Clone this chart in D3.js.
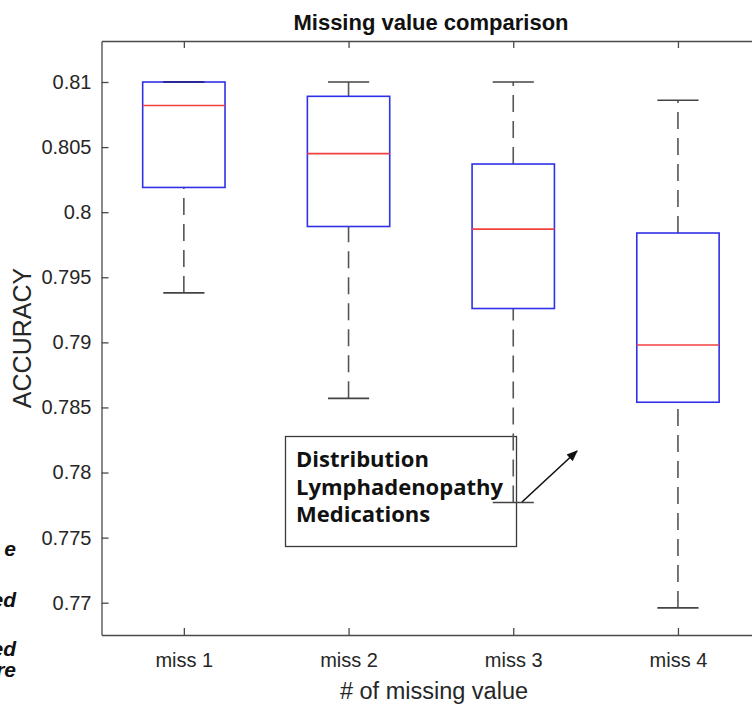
<!DOCTYPE html>
<html>
<head>
<meta charset="utf-8">
<script src="https://cdn.jsdelivr.net/npm/d3@7"></script>
<style>
  html, body { margin: 0; padding: 0; background: #fff; }
  svg { display: block; }
</style>
</head>
<body>
<svg id="chart" width="752" height="707"></svg>
<script>
// ---- data ----
const categories = ["miss 1", "miss 2", "miss 3", "miss 4"];
const lowerWhisker = [0.7938, 0.7857, 0.7777, 0.7696];
const q1Values     = [0.8019, 0.7989, 0.7926, 0.7854];
const medianValues = [0.8082, 0.8045, 0.7987, 0.7898];
const q3Values     = [0.8100, 0.8089, 0.8037, 0.7984];
const upperWhisker = [0.8100, 0.8100, 0.8100, 0.8086];
const yTicks = [0.77, 0.775, 0.78, 0.785, 0.79, 0.795, 0.8, 0.805, 0.81];
const yTickLabels = ["0.77", "0.775", "0.78", "0.785", "0.79", "0.795", "0.8", "0.805", "0.81"];
const yLimits = [0.76752, 0.81315];
const xLimits = [0.5, 4.5];
const annotationLines = ["Distribution", "Lymphadenopathy", "Medications"];
const sideFragments = [
  { text: "e", y: 556 },
  { text: "ed", y: 607 },
  { text: "ed", y: 656 },
  { text: "re", y: 677 }
];

// ---- layout ----
const svg = d3.select("#chart");
const pLeft = 101.5, pRight = 760.3, pTop = 41, pBottom = 635;
const x = d3.scaleLinear().domain(xLimits).range([pLeft, pRight]);
const y = d3.scaleLinear().domain(yLimits).range([pBottom, pTop]);
const axisColor = "#4a4a4a";
const font = "'Liberation Sans', Arial, sans-serif";

// side fragments (cut-off text from neighbouring figure)
svg.append("g").selectAll("text").data(sideFragments).join("text")
  .attr("x", 16).attr("y", d => d.y)
  .attr("text-anchor", "end")
  .attr("font-family", font).attr("font-weight", "bold").attr("font-style", "italic")
  .attr("font-size", 21).attr("fill", "#111")
  .text(d => d.text);

// annotation box (drawn beneath plot marks)
const ann = svg.append("g");
ann.append("rect")
  .attr("x", 285.5).attr("y", 436.5).attr("width", 231).attr("height", 110)
  .attr("fill", "#fff").attr("stroke", "#3a3a3a").attr("stroke-width", 1.3);
ann.selectAll("text").data(annotationLines).join("text")
  .attr("x", 296).attr("y", (d, i) => 467 + i * 27.5)
  .attr("font-family", "'Open Sans', sans-serif").attr("font-weight", "bold")
  .attr("font-size", 22).attr("fill", "#111")
  .text(d => d);

// axes (MATLAB-style box with inward ticks)
const yAxis = d3.axisLeft(y).tickValues(yTicks).tickFormat((d, i) => yTickLabels[i])
  .tickSizeInner(-7).tickSizeOuter(0).tickPadding(10);
const gy = svg.append("g").attr("transform", `translate(${pLeft},0)`).call(yAxis);
gy.select(".domain").attr("stroke", axisColor).attr("stroke-width", 1.3);
gy.selectAll(".tick line").attr("stroke", axisColor).attr("stroke-width", 1.3);
gy.selectAll(".tick text").attr("font-family", font).attr("font-size", 20)
  .attr("fill", "#262626");

const xAxis = d3.axisBottom(x).tickValues(d3.range(1, categories.length + 1))
  .tickFormat((d, i) => categories[i]).tickSizeInner(-7).tickSizeOuter(0).tickPadding(18);
const gx = svg.append("g").attr("transform", `translate(0,${pBottom})`).call(xAxis);
gx.select(".domain").attr("stroke", axisColor).attr("stroke-width", 1.3);
gx.selectAll(".tick line").attr("stroke", axisColor).attr("stroke-width", 1.3);
gx.selectAll(".tick text").attr("font-family", font).attr("font-size", 20)
  .attr("fill", "#262626");

const xTop = d3.axisTop(x).tickValues(d3.range(1, categories.length + 1))
  .tickFormat("").tickSizeInner(-7).tickSizeOuter(0);
const gxt = svg.append("g").attr("transform", `translate(0,${pTop})`).call(xTop);
gxt.select(".domain").attr("stroke", axisColor).attr("stroke-width", 1.3);
gxt.selectAll(".tick line").attr("stroke", axisColor).attr("stroke-width", 1.3);

svg.append("line").attr("x1", pRight).attr("x2", pRight).attr("y1", pTop).attr("y2", pBottom)
  .attr("stroke", axisColor).attr("stroke-width", 1.3);

// boxplots
const data = categories.map((c, i) => ({
  i: i + 1, lo: lowerWhisker[i], q1: q1Values[i], med: medianValues[i],
  q3: q3Values[i], hi: upperWhisker[i]
}));
const boxHalf = 0.25, capHalf = 0.125;
const g = svg.append("g");
const item = g.selectAll("g.box").data(data).join("g").attr("class", "box");

// whiskers drawn from lower value upward
item.append("line")
  .attr("x1", d => x(d.i)).attr("x2", d => x(d.i))
  .attr("y1", d => y(d.lo)).attr("y2", d => y(d.q1))
  .attr("stroke", "#555").attr("stroke-width", 1.6).attr("stroke-dasharray", "17,9");
item.append("line")
  .attr("x1", d => x(d.i)).attr("x2", d => x(d.i))
  .attr("y1", d => y(d.q3)).attr("y2", d => y(d.hi))
  .attr("stroke", "#555").attr("stroke-width", 1.6).attr("stroke-dasharray", "17,9");

item.append("rect")
  .attr("x", d => x(d.i - boxHalf)).attr("width", d => x(d.i + boxHalf) - x(d.i - boxHalf))
  .attr("y", d => y(d.q3)).attr("height", d => y(d.q1) - y(d.q3))
  .attr("fill", "none").attr("stroke", "#3030e8").attr("stroke-width", 1.6);
item.append("line")
  .attr("x1", d => x(d.i - boxHalf)).attr("x2", d => x(d.i + boxHalf))
  .attr("y1", d => y(d.med)).attr("y2", d => y(d.med))
  .attr("stroke", "#f04040").attr("stroke-width", 1.6);

// caps
item.append("line")
  .attr("x1", d => x(d.i - capHalf)).attr("x2", d => x(d.i + capHalf))
  .attr("y1", d => y(d.lo)).attr("y2", d => y(d.lo))
  .attr("stroke", "#444").attr("stroke-width", 1.6);
item.append("line")
  .attr("x1", d => x(d.i - capHalf)).attr("x2", d => x(d.i + capHalf))
  .attr("y1", d => y(d.hi)).attr("y2", d => y(d.hi))
  .attr("stroke-width", 1.6)
  .attr("stroke", d => d.hi === d.q3 ? "#1a1a80" : "#444");

// annotation arrow
svg.append("defs").append("marker")
  .attr("id", "arrow").attr("viewBox", "0 0 10 10").attr("refX", 9).attr("refY", 5)
  .attr("markerWidth", 7).attr("markerHeight", 7).attr("orient", "auto")
  .append("path").attr("d", "M0,1 L10,5 L0,9 Z").attr("fill", "#111");
svg.append("line")
  .attr("x1", 522).attr("y1", 502).attr("x2", 577).attr("y2", 451)
  .attr("stroke", "#111").attr("stroke-width", 1.6).attr("marker-end", "url(#arrow)");

// title and axis labels
svg.append("text").attr("x", 431).attr("y", 30).attr("text-anchor", "middle")
  .attr("font-family", font).attr("font-weight", "bold").attr("font-size", 22)
  .attr("fill", "#111").text("Missing value comparison");
svg.append("text").attr("x", 434).attr("y", 699).attr("text-anchor", "middle")
  .attr("font-family", font).attr("font-size", 23.5).attr("fill", "#262626")
  .text("# of missing value");
svg.append("text")
  .attr("transform", "translate(31,338) rotate(-90)").attr("text-anchor", "middle")
  .attr("font-family", font).attr("font-size", 25).attr("fill", "#262626")
  .text("ACCURACY");
</script>
</body>
</html>
